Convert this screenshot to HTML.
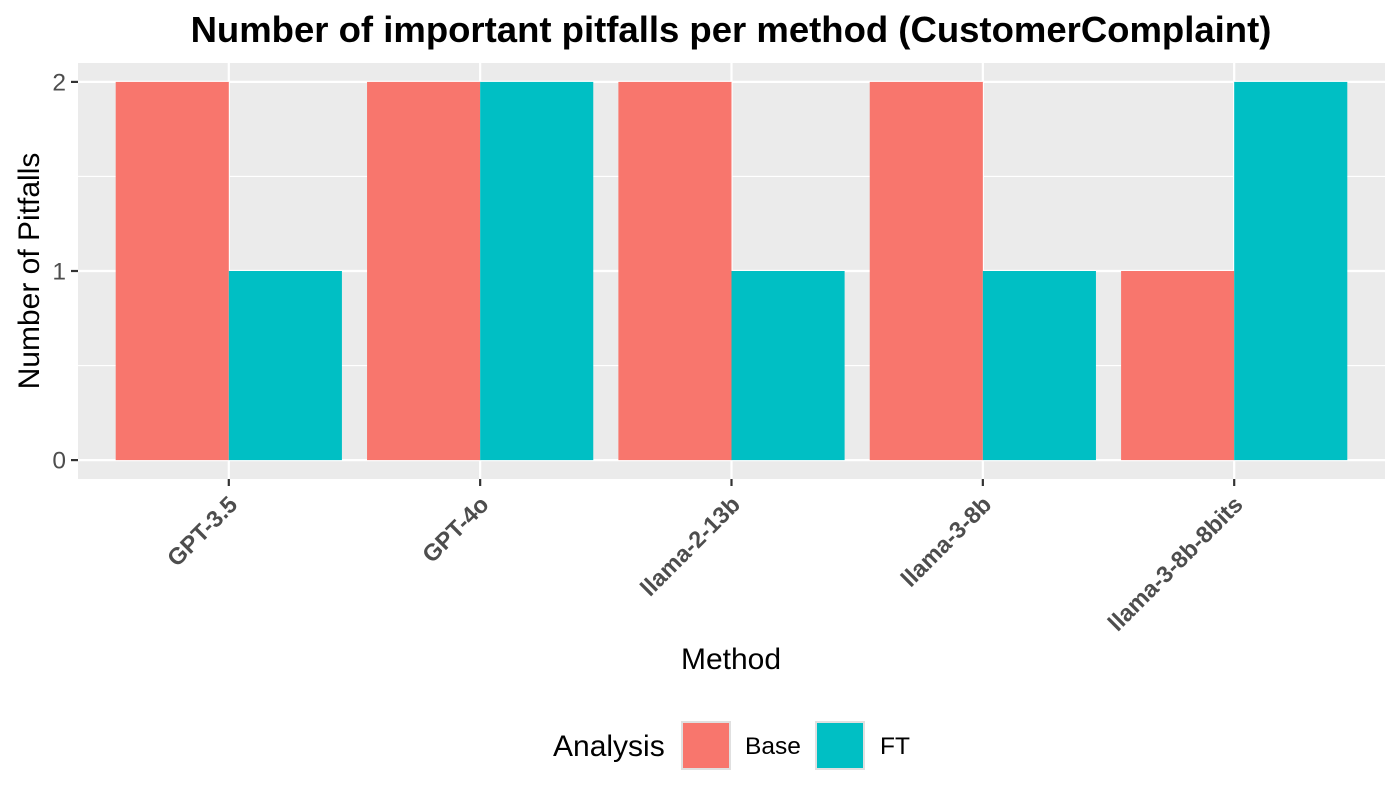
<!DOCTYPE html>
<html><head><meta charset="utf-8"><style>
body{margin:0;background:#fff;}
svg{display:block;font-family:"Liberation Sans",Arial,sans-serif;}
</style></head><body>
<svg id="chart" width="1400" height="800" viewBox="0 0 1400 800">
<text x="731" y="42" text-anchor="middle" font-size="36.5" font-weight="bold" fill="#000">Number of important pitfalls per method (CustomerComplaint)</text>
<rect x="78" y="63" width="1307" height="416" fill="#ebebeb"/>
<g id="grid"></g><g id="bars"></g><g id="axes"></g>
<text transform="translate(39,271) rotate(-90)" text-anchor="middle" font-size="30" fill="#000">Number of Pitfalls</text>
<text x="731" y="669" text-anchor="middle" font-size="30" fill="#000">Method</text>
<g>
<text x="553" y="756" font-size="30" fill="#000">Analysis</text>
<rect x="682" y="722" width="48" height="47" fill="#f8766d" stroke="#e0e0e0" stroke-width="2"/>
<text x="745" y="754" font-size="24.5" fill="#000">Base</text>
<rect x="816" y="722" width="48" height="47" fill="#00bfc4" stroke="#e0e0e0" stroke-width="2"/>
<text x="880" y="754" font-size="24.5" fill="#000">FT</text>
</g>
</svg>
<script>
const categories = ["GPT-3.5","GPT-4o","llama-2-13b","llama-3-8b","llama-3-8b-8bits"];
const baseValues = [2,2,2,2,1];
const ftValues = [1,2,1,1,2];
const yTicks = [0,1,2];
const NS="http://www.w3.org/2000/svg";
const px0=78, pw=1307, py0=63, ph=416;
const ymin=-0.1, ymax=2.1;
const step=pw/(categories.length+0.2);
function xc(i){return px0+step*(i+0.6);}
function y(v){return py0+ph*(ymax-v)/(ymax-ymin);}
function mk(tag,attrs,parent){const e=document.createElementNS(NS,tag);for(const k in attrs)e.setAttribute(k,attrs[k]);parent.appendChild(e);return e;}
const grid=document.getElementById('grid'),bars=document.getElementById('bars'),axes=document.getElementById('axes');
for(let v=0;v<=2;v+=0.5){
  const l=mk('line',{x1:px0,x2:px0+pw,y1:y(v),y2:y(v),stroke:'#fff','stroke-width':v%1===0?2.2:1.1},grid);
  
  
}
categories.forEach((c,i)=>{
  const l=mk('line',{x1:xc(i),x2:xc(i),y1:py0,y2:py0+ph,stroke:'#fff','stroke-width':2.2},grid);
  
  
});
const bw=step*0.45;
categories.forEach((c,i)=>{
  const b=mk('rect',{x:xc(i)-bw,y:y(baseValues[i]),width:bw,height:y(0)-y(baseValues[i]),fill:'#f8766d'},bars);
  
  
  const f=mk('rect',{x:xc(i),y:y(ftValues[i]),width:bw,height:y(0)-y(ftValues[i]),fill:'#00bfc4'},bars);
  
  
  const t=mk('line',{x1:xc(i),x2:xc(i),y1:py0+ph,y2:py0+ph+7,stroke:'#333','stroke-width':2.2},axes);
  
  
  const ax=xc(i)+10, ay=py0+ph+27;
  const lb=mk('text',{x:ax,y:ay,'text-anchor':'end','font-size':23.5,'font-weight':'bold',fill:'#4d4d4d',transform:`rotate(-45 ${ax} ${ay})`},axes);
  lb.textContent=c;
  
  
});
yTicks.forEach(v=>{
  const t=mk('line',{x1:px0-7,x2:px0,y1:y(v),y2:y(v),stroke:'#333','stroke-width':2.2},axes);
  
  
  const lb=mk('text',{x:px0-12,y:y(v)+8.5,'text-anchor':'end','font-size':24.5,fill:'#4d4d4d'},axes);
  lb.textContent=v;
  
  
});
</script>
</body></html>
